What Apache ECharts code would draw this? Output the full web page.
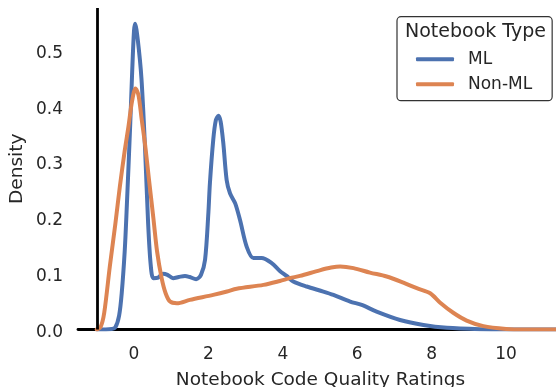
<!DOCTYPE html>
<html>
<head>
<meta charset="utf-8">
<script src="https://cdn.jsdelivr.net/npm/echarts@6/dist/echarts.min.js"></script>
<style>
html,body{margin:0;padding:0;background:#fff;}
#chart{width:556px;height:387px;}
</style>
</head>
<body>
<div id="chart"></div>
<script>
// ---- data ----
const seriesNames = ['ML', 'Non-ML'];
const mlX = [-1.0,-0.6,-0.5,-0.4,-0.33,-0.25,-0.2,-0.1,-0.05,0.0,0.03,0.1,0.2,0.3,0.38,0.45,0.52,0.65,0.78,0.9,1.05,1.2,1.37,1.5,1.67,1.8,1.91,2.0,2.04,2.13,2.2,2.27,2.33,2.4,2.49,2.58,2.72,2.85,3.03,3.21,3.43,3.7,3.92,4.1,4.28,4.64,5.09,5.36,5.81,6.12,6.52,7.15,7.78,8.41,9.3,10.0,11.5];
const mlY = [0,0.001,0.004,0.025,0.065,0.14,0.21,0.37,0.46,0.535,0.548,0.52,0.45,0.32,0.19,0.115,0.092,0.093,0.100,0.098,0.092,0.094,0.096,0.094,0.090,0.098,0.125,0.21,0.262,0.34,0.375,0.383,0.372,0.334,0.268,0.244,0.226,0.196,0.148,0.128,0.128,0.119,0.105,0.096,0.086,0.077,0.068,0.062,0.050,0.044,0.032,0.017,0.008,0.003,0.0005,0,0];
const nonMlX = [-1.0,-0.9,-0.8,-0.65,-0.5,-0.38,-0.25,-0.15,-0.05,0.04,0.12,0.2,0.3,0.4,0.52,0.62,0.74,0.85,0.97,1.15,1.5,2.13,2.5,2.76,3.48,3.92,4.19,4.46,4.99,5.3,5.54,5.9,6.34,6.79,7.24,7.6,7.96,8.23,8.58,8.94,9.39,10.0,10.5,11.5];
const nonMlY = [0.0,0.004,0.03,0.113,0.19,0.256,0.32,0.363,0.41,0.432,0.42,0.38,0.33,0.27,0.20,0.14,0.093,0.065,0.050,0.047,0.053,0.062,0.068,0.073,0.080,0.087,0.092,0.096,0.106,0.111,0.113,0.110,0.102,0.095,0.084,0.074,0.065,0.048,0.030,0.016,0.006,0.001,0,0];
const xTicks = [0, 2, 4, 6, 8, 10];
const yTicks = [0, 0.1, 0.2, 0.3, 0.4, 0.5];

const pairs = (xs, ys) => xs.map((x, i) => [x, ys[i]]);
const txt = '#262626';
const font = 'DejaVu Sans';

const chart = echarts.init(document.getElementById('chart'), null, {renderer: 'canvas'});
chart.setOption({
  backgroundColor: '#fff',
  animation: false,
  grid: {left: 78, right: -7, top: 8, bottom: 57.5, containLabel: false, outerBoundsMode: 'none'},
  title: {
    text: 'Notebook Type', left: 400, top: 18, textAlign: 'left', padding: 5,
    textStyle: {fontFamily: font, fontSize: 19, fontWeight: 'normal', color: txt}
  },
  legend: {
    orient: 'vertical', left: 397, top: 16.7,
    padding: [34, 20, 8, 19],
    itemGap: 8, itemWidth: 38, itemHeight: 4, icon: 'roundRect',
    borderColor: '#333', borderWidth: 1.2, borderRadius: 4, backgroundColor: '#fff',
    textStyle: {fontFamily: font, fontSize: 17, color: txt, padding: [0, 0, 0, 9], lineHeight: 17},
    data: seriesNames
  },
  xAxis: {
    type: 'value', min: -1.505, max: 11.53,
    name: 'Notebook Code Quality Ratings', nameLocation: 'middle', nameGap: 41,
    nameMoveOverlap: false,
    nameTextStyle: {fontFamily: font, fontSize: 18.5, color: txt},
    axisLine: {show: true, onZero: false, lineStyle: {color: '#000', width: 2.8}},
    axisTick: {show: false},
    splitLine: {show: false},
    axisLabel: {customValues: xTicks, margin: 17, fontFamily: font, fontSize: 17, color: txt}
  },
  yAxis: {
    type: 'value', min: 0, max: 0.576,
    name: 'Density', nameLocation: 'middle', nameGap: 51,
    nameMoveOverlap: false,
    nameTextStyle: {fontFamily: font, fontSize: 18.5, color: txt},
    axisLine: {show: false},
    axisTick: {show: false},
    splitLine: {show: false},
    axisLabel: {customValues: yTicks, margin: 15, color: txt,
      formatter: v => '{t|' + v.toFixed(1) + '}',
      rich: {t: {fontFamily: font, fontSize: 17, color: txt, padding: [6, 0, 0, 0]}}}
  },
  series: [
    {
      name: seriesNames[0], type: 'line', data: pairs(mlX, mlY),
      showSymbol: false, symbol: 'none', smooth: 0.3,
      lineStyle: {color: '#4c72b0', width: 4, cap: 'round', join: 'round'},
      itemStyle: {color: '#4c72b0'}, z: 2,
      markLine: {
        silent: true, symbol: 'none', label: {show: false},
        lineStyle: {color: '#000', width: 2.8, type: 'solid'},
        data: [{xAxis: -1}], z: 5
      }
    },
    {
      name: seriesNames[1], type: 'line', data: pairs(nonMlX, nonMlY),
      showSymbol: false, symbol: 'none', smooth: 0.3,
      lineStyle: {color: '#dd8452', width: 4, cap: 'round', join: 'round'},
      itemStyle: {color: '#dd8452'}, z: 3
    }
  ]
});
</script>
</body>
</html>
